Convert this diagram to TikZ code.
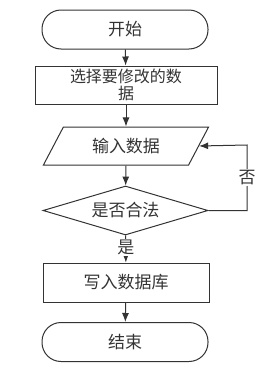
\documentclass[tikz,border=0pt]{standalone}
\usepackage{fontspec}
\newfontfamily\cjk{Noto Sans CJK SC}
\usepackage{tikz}
\usetikzlibrary{shapes.geometric,arrows.meta}

\begin{document}
\begin{tikzpicture}[x=1pt,y=-1pt,>={Latex[length=9pt,width=7pt]},
	font=\cjk\fontsize{17}{21}\selectfont,
	every node/.style={text=black!80},
	line/.style={draw=black!80,line width=1pt}]
			
			\useasboundingbox (0,0) rectangle (278,370);
			
			\node[line,rectangle,rounded corners=19pt,minimum width=166pt,minimum height=39pt] (start) at (125,29.5) {开始};
			\node[line,rectangle,minimum width=182pt,minimum height=38pt,align=center,inner sep=0pt,font=\cjk\fontsize{16}{17}\selectfont] (select) at (126,85) {选择要修改的数\\据};
			\node[line,trapezium,trapezium left angle=62,trapezium right angle=118,trapezium stretches=true,minimum width=166pt,minimum height=38pt] (input) at (126,146) {输入数据};
			\node[line,diamond,aspect=3.4,inner sep=0pt,minimum width=165pt,minimum height=49pt] (check) at (125.5,210.5) {是否合法};
			\node[line,rectangle,minimum width=166pt,minimum height=39pt] (write) at (126,282.5) {写入数据库};
			\node[line,rectangle,rounded corners=19pt,minimum width=166pt,minimum height=39pt] (end) at (125,342) {结束};
			
			\draw[line,->] (start)--(select);
			\draw[line,->] (select)--(input);
			\draw[line,->] (input)--(check);
			\draw[line,->] (check)-- node[fill=white,inner sep=1pt,pos=0.45]{是} (write);
			\draw[line,->] (write)--(end);
			\draw[line,->] (check.east)-|(247,145) node[pos=0.75,fill=white,inner sep=1pt]{否} --(input.east);
			
		\end{tikzpicture}
\end{document}
